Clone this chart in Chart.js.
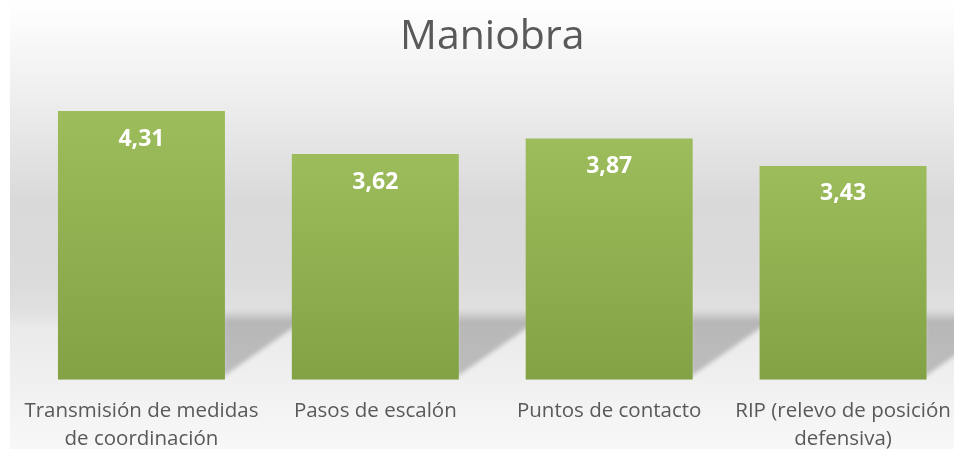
<!DOCTYPE html>
<html>
<head>
<meta charset="utf-8">
<script src="https://cdn.jsdelivr.net/npm/chart.js@4.4.1/dist/chart.umd.min.js"></script>
<style>
  html, body { margin: 0; padding: 0; background: #ffffff; overflow: hidden; }
  #wrap { position: relative; width: 990px; height: 449px; }
</style>
</head>
<body>
<div id="wrap"><canvas id="chart"></canvas></div>
<script>
const categories = [
  ['Transmisión de medidas', 'de coordinación'],
  'Pasos de escalón',
  'Puntos de contacto',
  ['RIP (relevo de posición', 'defensiva)']
];
const values = [4.31, 3.62, 3.87, 3.43];
const titleText = 'Maniobra';

// panel background + floor shadows behind the bars
const backdrop = {
  id: 'backdrop',
  beforeDraw(chart) {
    const { ctx, height, width } = chart;
    ctx.save();
    const g = ctx.createLinearGradient(0, 0, 0, height);
    g.addColorStop(0, '#ffffff');
    g.addColorStop(0.22, '#eeeeee');
    g.addColorStop(0.45, '#d9d9d9');
    g.addColorStop(0.62, '#dbdbdb');
    g.addColorStop(0.69, '#e0e0e0');
    g.addColorStop(0.73, '#eaeaea');
    g.addColorStop(0.85, '#f0f0f0');
    g.addColorStop(1, '#f8f8f8');
    ctx.fillStyle = g;
    ctx.fillRect(10, 0, width - 10, height);
    ctx.restore();
  },
  beforeDatasetsDraw(chart) {
    const { ctx } = chart;
    const meta = chart.getDatasetMeta(0);
    ctx.save();
    ctx.filter = 'blur(2px)';
    meta.data.forEach(bar => {
      const r = bar.x + bar.width / 2;
      const b = bar.base;
      const g = ctx.createLinearGradient(0, b - 70, 0, b - 58);
      g.addColorStop(0, 'rgba(0,0,0,0)');
      g.addColorStop(1, 'rgba(0,0,0,0.21)');
      ctx.fillStyle = g;
      ctx.beginPath();
      ctx.moveTo(r - 2, b - 70);
      ctx.lineTo(r + 80, b - 70);
      ctx.lineTo(r + 80, b - 56);
      ctx.lineTo(r + 68, b - 52);
      ctx.lineTo(r - 2, b - 3);
      ctx.closePath();
      ctx.fill();
    });
    ctx.restore();
  },
  afterDatasetsDraw(chart) {
    const { ctx } = chart;
    const meta = chart.getDatasetMeta(0);
    ctx.save();
    ctx.fillStyle = '#ffffff';
    ctx.font = 'bold 23px "Open Sans"';
    ctx.textAlign = 'center';
    ctx.textBaseline = 'middle';
    meta.data.forEach((bar, i) => {
      ctx.fillText(values[i].toLocaleString('es-ES', { minimumFractionDigits: 2 }), bar.x, bar.y + 28);
    });
    ctx.restore();
  }
};

function barFill(context) {
  const chart = context.chart;
  const yScale = chart.scales.y;
  if (!yScale || context.raw === undefined) return '#8fb050';
  const top = yScale.getPixelForValue(context.raw);
  const base = yScale.getPixelForValue(0);
  if (!isFinite(top) || !isFinite(base) || top === base) return '#8fb050';
  const g = chart.ctx.createLinearGradient(0, top, 0, base);
  g.addColorStop(0, '#9dbc5b');
  g.addColorStop(1, '#82a245');
  return g;
}

new Chart(document.getElementById('chart'), {
  type: 'bar',
  data: {
    labels: categories,
    datasets: [{
      data: values,
      backgroundColor: barFill,
      borderWidth: 0,
      categoryPercentage: 1,
      barPercentage: 0.714
    }]
  },
  options: {
    responsive: true,
    maintainAspectRatio: false,
    animation: false,
    layout: { padding: { left: 24.5, right: 30, top: 0, bottom: -21 } },
    plugins: {
      legend: { display: false },
      tooltip: { enabled: false },
      title: {
        display: true,
        text: titleText,
        color: '#595959',
        font: { family: 'Open Sans', size: 41, weight: 'normal' },
        padding: { top: 12.4, bottom: 6.4 }
      }
    },
    scales: {
      x: {
        grid: { display: false, drawTicks: false },
        border: { display: false },
        ticks: {
          color: '#595959',
          font: { family: 'Open Sans', size: 20.5, lineHeight: 1.37 },
          padding: 17,
          maxRotation: 0,
          autoSkip: false
        }
      },
      y: {
        display: false,
        min: 0,
        max: 5
      }
    }
  },
  plugins: [backdrop]
});
</script>
</body>
</html>
